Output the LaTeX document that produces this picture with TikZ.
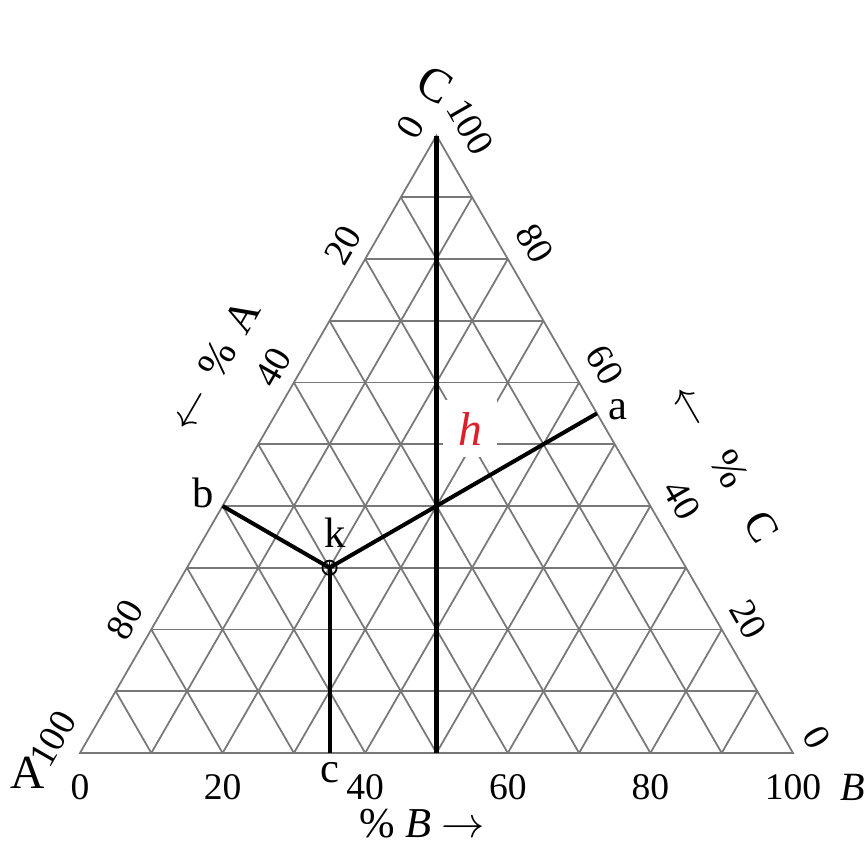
\documentclass[tikz,border=0pt]{standalone}
\usepackage{amsmath,amssymb}
\usepackage{fontspec}
\setmainfont{Liberation Serif}
\usepackage{xcolor}
\usepackage{tikz}

\definecolor{gridgray}{gray}{0.47}
\definecolor{hred}{RGB}{222,30,40}

\newcommand{\ticksize}{\fontsize{15}{18}\selectfont}
\newcommand{\ptsize}{\fontsize{17}{20}\selectfont}
\newcommand{\vtxsize}{\fontsize{19}{22}\selectfont}

\begin{document}
\begin{tikzpicture}[line width=0.7pt,
    ticklbl/.style={font=\ticksize, inner sep=0pt},
    axislbl/.style={font=\fontsize{17}{20}\selectfont, inner sep=0pt},
    ptlbl/.style={font=\ptsize, inner sep=0pt},
    thick line/.style={line width=1.6pt}]
  \useasboundingbox (-1.122,-1.262) rectangle (11.010,10.561);

  \coordinate (A) at (0.0, 0.0);
  \coordinate (B) at (10.0, 0.0);
  \coordinate (C) at (5.0, 8.660);
  \coordinate (h) at (5.0, 3.464);
  \coordinate (a) at (7.25, 4.763);
  \coordinate (b) at (2.0, 3.464);
  \coordinate (k) at (3.5, 2.598);
  \coordinate (c) at (3.5, 0.0);
  \coordinate (m) at (5.0, 0.0);

  % grid, every 10 %
  \foreach \i in {1,...,9} {
    \draw[gridgray] ({\i*0.5},{\i*0.866}) -- ({10-\i*0.5},{\i*0.866});
    \draw[gridgray] (\i,0) -- ({5+\i*0.5},{(10-\i)*0.866});
    \draw[gridgray] (\i,0) -- ({\i*0.5},{\i*0.866});
  }
  \draw[gridgray] (A) -- (B) -- (C) -- cycle;

  % label h sits on a white patch
  \node[font=\vtxsize\itshape, text=hred, fill=white, inner sep=0pt,
        minimum width=0.75cm, minimum height=0.8cm] (lh) at (5.47, 4.55) {h};

  % composition lines
  \draw[thick line] (C) -- (m);
  \draw[thick line] (h) -- (a);
  \draw[thick line] (b) -- (k) -- (h);
  \draw[thick line] (k) -- (c);
  \draw[line width=0.7pt] (k) circle (0.1);
  \draw[line width=0.5pt] (k) ++(0,0.1) -- ++(0,-0.2);

  % point labels
  \node[ptlbl] (la) at (7.55, 4.81) {a};
  \node[ptlbl] (lb) at (1.73, 3.65) {b};
  \node[ptlbl] (lk) at (3.58, 3.09) {k};
  \node[ptlbl] (lc) at (3.51, -0.27) {c};

  % vertices
  \node[font=\vtxsize, inner sep=0pt] (vA) at (-0.74, -0.28) {A};
  \node[font=\vtxsize, inner sep=0pt, rotate=-30] (vC) at (4.98, 9.37) {C};
  \node[font=\fontsize{16}{19}\selectfont\itshape, inner sep=0pt] (vB) at (10.84, -0.48) {B};

  % % B axis
  \foreach \v/\x in {0/0, 20/2, 40/4, 60/6, 80/8, 100/10}
    \node[ticklbl] (b\v) at (\x, -0.48) {\v};
  \node[axislbl] (pB) at (4.80, -0.99) {\% \textit{B} \(\rightarrow\)};

  % % A axis
  \node[ticklbl, rotate=60] (a100) at (-0.38, 0.20) {100};
  \node[ticklbl, rotate=60] (a80) at (0.63, 1.87) {80};
  \node[ticklbl, rotate=60] (a40) at (2.71, 5.41) {40};
  \node[ticklbl, rotate=60] (a20) at (3.69, 7.12) {20};
  \node[ticklbl, rotate=60] (a0) at (4.63, 8.78) {0};
  \node[axislbl, rotate=60] (pA) at (1.88, 5.44)
    {\(\leftarrow\)\hspace{0.4em}\%\hspace{0.4em}A};

  % % C axis
  \node[ticklbl, rotate=-60] (c100) at (5.47, 8.78) {100};
  \node[ticklbl, rotate=-60] (c80) at (6.38, 7.15) {80};
  \node[ticklbl, rotate=-60] (c60) at (7.36, 5.44) {60};
  \node[ticklbl, rotate=-60] (c40) at (8.44, 3.55) {40};
  \node[ticklbl, rotate=-60] (c20) at (9.37, 1.87) {20};
  \node[ticklbl, rotate=-60] (c0) at (10.34, 0.22) {0};
  \node[axislbl, rotate=-60] (pC) at (9.05, 4.07)
    {\(\leftarrow\)\hspace{0.8em}\%\hspace{0.8em}C};
\end{tikzpicture}
\end{document}
